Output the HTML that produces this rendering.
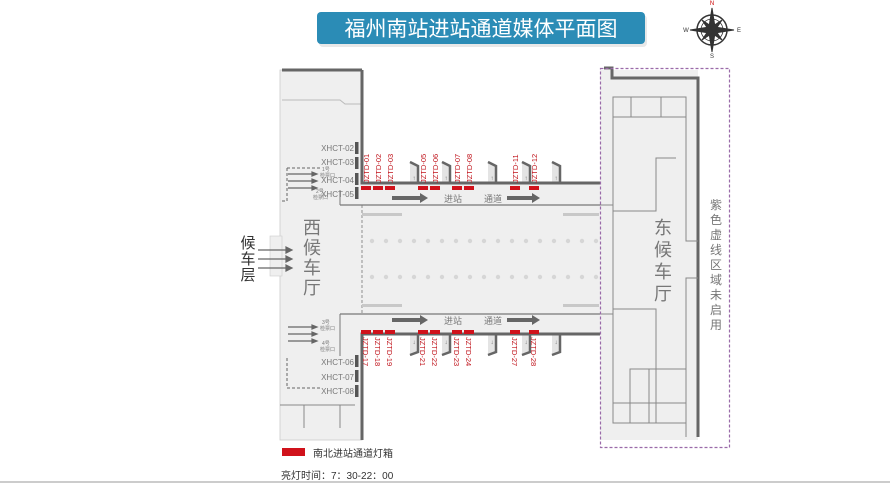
<!DOCTYPE html>
<html><head><meta charset="utf-8"><style>
html,body{margin:0;padding:0;background:#fff;}
svg{display:block;font-family:"Liberation Sans","Noto Sans CJK SC",sans-serif;}
</style></head><body>
<svg width="890" height="485" viewBox="0 0 890 485" xmlns="http://www.w3.org/2000/svg">
<rect x="0" y="0" width="890" height="485" fill="#fff"/>
<line x1="0" y1="482" x2="890" y2="482" stroke="#ccc" stroke-width="2"/>
<!-- title -->
<rect x="319" y="15" width="328" height="32" rx="4" fill="#d8d8d8" opacity="0.6"/>
<rect x="317" y="12" width="328" height="32" rx="4" fill="#2b8cb6"/>
<text x="481" y="36" font-size="21" fill="#fff" text-anchor="middle">福州南站进站通道媒体平面图</text>
<!-- compass -->
<g transform="translate(712,30)" stroke="#333" fill="none">
<circle r="15" stroke-width="1.5"/><circle r="11" stroke-width="0.8"/>
<polygon points="0,-22 3,-3 0,0 -3,-3" fill="#333"/>
<polygon points="0,22 3,3 0,0 -3,3" fill="#333"/>
<polygon points="-22,0 -3,3 0,0 -3,-3" fill="#333"/>
<polygon points="22,0 3,3 0,0 3,-3" fill="#333"/>
<polygon points="-10,-10 2,-2 -2,2" fill="#333"/><polygon points="10,10 2,-2 -2,2" fill="#333"/>
<polygon points="10,-10 2,2 -2,-2" fill="#333"/><polygon points="-10,10 2,2 -2,-2" fill="#333"/>
</g>
<text x="712" y="5" font-size="6" fill="#c00" text-anchor="middle">N</text>
<text x="712" y="58" font-size="6" fill="#333" text-anchor="middle">S</text>
<text x="686" y="32" font-size="6" fill="#333" text-anchor="middle">W</text>
<text x="739" y="32" font-size="6" fill="#333" text-anchor="middle">E</text>

<!-- west hall -->
<rect x="280" y="70" width="82" height="370" fill="#efefef" stroke="#ccc" stroke-width="0.8"/>
<rect x="270" y="236" width="12" height="40" fill="#efefef" stroke="#ccc" stroke-width="0.6"/>
<polyline points="282,100 340,100 345,104 362,104" fill="none" stroke="#bbb"/>
<polyline points="287,168 287,201 282,201" fill="none" stroke="#666" stroke-dasharray="3,2"/>
<line x1="287" y1="168" x2="320" y2="168" stroke="#666" stroke-dasharray="3,2"/>
<polyline points="287,358 287,388 322,388" fill="none" stroke="#666" stroke-dasharray="3,2"/>
<line x1="280" y1="405" x2="355" y2="405" stroke="#888"/>
<line x1="304" y1="405" x2="304" y2="428" stroke="#888"/><line x1="340" y1="405" x2="340" y2="428" stroke="#888"/>
<line x1="282" y1="70" x2="362" y2="70" stroke="#666" stroke-width="3"/>

<!-- corridor -->
<rect x="360" y="183" width="240" height="151" fill="#efefef"/>
<line x1="362" y1="205" x2="600" y2="205" stroke="#777" stroke-width="1.2"/>
<line x1="340" y1="205" x2="362" y2="205" stroke="#777" stroke-width="1.2"/>
<line x1="340" y1="190" x2="340" y2="205" stroke="#777" stroke-width="1"/>
<line x1="340" y1="314" x2="600" y2="314" stroke="#777" stroke-width="1.2"/>
<line x1="340" y1="314" x2="340" y2="356" stroke="#777" stroke-width="1"/>
<line x1="362" y1="205" x2="362" y2="314" stroke="#777" stroke-dasharray="3,2" stroke-width="0.8"/>
<g fill="#c8c8c8">
<rect x="362" y="213" width="40" height="3"/><rect x="563" y="213" width="36" height="3"/>
<rect x="362" y="304" width="40" height="3"/><rect x="563" y="304" width="36" height="3"/>
</g>
<g fill="#d6d6d6">
<circle cx="372" cy="241" r="2.2"/><circle cx="386" cy="241" r="2.2"/><circle cx="400" cy="241" r="2.2"/><circle cx="414" cy="241" r="2.2"/><circle cx="428" cy="241" r="2.2"/><circle cx="442" cy="241" r="2.2"/><circle cx="456" cy="241" r="2.2"/><circle cx="470" cy="241" r="2.2"/><circle cx="484" cy="241" r="2.2"/><circle cx="498" cy="241" r="2.2"/><circle cx="512" cy="241" r="2.2"/><circle cx="526" cy="241" r="2.2"/><circle cx="540" cy="241" r="2.2"/><circle cx="554" cy="241" r="2.2"/><circle cx="568" cy="241" r="2.2"/><circle cx="582" cy="241" r="2.2"/><circle cx="596" cy="241" r="2.2"/>
<circle cx="372" cy="277" r="2.2"/><circle cx="386" cy="277" r="2.2"/><circle cx="400" cy="277" r="2.2"/><circle cx="414" cy="277" r="2.2"/><circle cx="428" cy="277" r="2.2"/><circle cx="442" cy="277" r="2.2"/><circle cx="456" cy="277" r="2.2"/><circle cx="470" cy="277" r="2.2"/><circle cx="484" cy="277" r="2.2"/><circle cx="498" cy="277" r="2.2"/><circle cx="512" cy="277" r="2.2"/><circle cx="526" cy="277" r="2.2"/><circle cx="540" cy="277" r="2.2"/><circle cx="554" cy="277" r="2.2"/><circle cx="568" cy="277" r="2.2"/><circle cx="582" cy="277" r="2.2"/><circle cx="596" cy="277" r="2.2"/>
</g>

<!-- upper wall + kinks -->
<g fill="#e4e4e4">
<polygon points="410,162 418,166 418,183 410,183"/><polygon points="442,162 450,166 450,183 442,183"/>
<polygon points="488,162 496,166 496,183 488,183"/><polygon points="522,162 530,166 530,183 522,183"/>
<polygon points="552,162 560,166 560,183 552,183"/>
<polygon points="410,355 418,352 418,334 410,334"/><polygon points="442,355 450,352 450,334 442,334"/>
<polygon points="488,355 496,352 496,334 488,334"/><polygon points="522,355 530,352 530,334 522,334"/>
<polygon points="552,355 560,352 560,334 552,334"/>
</g>
<polyline points="362,70 362,183 600,183" fill="none" stroke="#666" stroke-width="3"/>
<g stroke="#666" stroke-width="2.5" fill="none">
<polyline points="410,162 418,166 418,183"/>
<polyline points="442,162 450,166 450,183"/>
<polyline points="488,162 496,166 496,183"/>
<polyline points="522,162 530,166 530,183"/>
<polyline points="552,162 560,166 560,183"/>
</g>
<g font-size="6" fill="#666" text-anchor="middle">
<text x="414" y="180">↑</text><text x="446" y="180">↑</text><text x="492" y="180">↑</text><text x="526" y="180">↑</text><text x="556" y="180">↑</text>
</g>
<!-- lower wall -->
<polyline points="362,440 362,334 600,334" fill="none" stroke="#666" stroke-width="3"/>
<g stroke="#666" stroke-width="2.5" fill="none">
<polyline points="418,334 418,352 410,355"/><polyline points="450,334 450,352 442,355"/>
<polyline points="496,334 496,352 488,355"/><polyline points="530,334 530,352 522,355"/>
<polyline points="560,334 560,352 552,355"/>
</g>
<g font-size="6" fill="#666" text-anchor="middle">
<text x="414" y="344">↓</text><text x="446" y="344">↓</text><text x="492" y="344">↓</text><text x="526" y="344">↓</text><text x="556" y="344">↓</text>
</g>

<!-- red boxes -->
<g fill="#d0121b">
<rect x="361" y="186" width="10" height="4"/><rect x="373" y="186" width="10" height="4"/><rect x="385" y="186" width="10" height="4"/>
<rect x="418" y="186" width="10" height="4"/><rect x="430" y="186" width="10" height="4"/>
<rect x="452" y="186" width="10" height="4"/><rect x="464" y="186" width="10" height="4"/>
<rect x="510" y="186" width="10" height="4"/><rect x="529" y="186" width="10" height="4"/>
<rect x="361" y="330" width="10" height="4"/><rect x="373" y="330" width="10" height="4"/><rect x="385" y="330" width="10" height="4"/>
<rect x="418" y="330" width="10" height="4"/><rect x="430" y="330" width="10" height="4"/>
<rect x="452" y="330" width="10" height="4"/><rect x="464" y="330" width="10" height="4"/>
<rect x="510" y="330" width="10" height="4"/><rect x="529" y="330" width="10" height="4"/>
</g>
<g font-size="7.5" fill="#c0141c">
<text transform="translate(369,183) rotate(-90)">JZTD-01</text>
<text transform="translate(381,183) rotate(-90)">JZTD-02</text>
<text transform="translate(393,183) rotate(-90)">JZTD-03</text>
<text transform="translate(426,183) rotate(-90)">JZTD-05</text>
<text transform="translate(438,183) rotate(-90)">JZTD-06</text>
<text transform="translate(460,183) rotate(-90)">JZTD-07</text>
<text transform="translate(472,183) rotate(-90)">JZTD-08</text>
<text transform="translate(518,183) rotate(-90)">JZTD-11</text>
<text transform="translate(537,183) rotate(-90)">JZTD-12</text>
<text transform="translate(363,337) rotate(90)">JZTD-17</text>
<text transform="translate(375,337) rotate(90)">JZTD-18</text>
<text transform="translate(387,337) rotate(90)">JZTD-19</text>
<text transform="translate(420,337) rotate(90)">JZTD-21</text>
<text transform="translate(432,337) rotate(90)">JZTD-22</text>
<text transform="translate(454,337) rotate(90)">JZTD-23</text>
<text transform="translate(466,337) rotate(90)">JZTD-24</text>
<text transform="translate(512,337) rotate(90)">JZTD-27</text>
<text transform="translate(531,337) rotate(90)">JZTD-28</text>
</g>
<!-- corridor arrows -->
<g fill="#666">
<polygon points="392,196 420,196 420,193 428,198 420,203 420,200 392,200"/>
<polygon points="507,196 532,196 532,193 540,198 532,203 532,200 507,200"/>
<polygon points="392,318 420,318 420,315 428,320 420,325 420,322 392,322"/>
<polygon points="507,318 532,318 532,315 540,320 532,325 532,322 507,322"/>
</g>
<g font-size="9" fill="#777">
<text x="444" y="202">进站</text><text x="484" y="202">通道</text>
<text x="444" y="324">进站</text><text x="484" y="324">通道</text>
</g>

<!-- XHCT labels -->
<g fill="#555"><rect x="355" y="142" width="3.5" height="12"/><rect x="355" y="157" width="3.5" height="12"/><rect x="355" y="173" width="3.5" height="12"/><rect x="355" y="187" width="3.5" height="12"/>
<rect x="355" y="355" width="3.5" height="12"/><rect x="355" y="370" width="3.5" height="12"/><rect x="355" y="385" width="3.5" height="12"/></g>
<g font-size="8" fill="#777" text-anchor="end">
<text x="354" y="151">XHCT-02</text><text x="354" y="165">XHCT-03</text><text x="354" y="183">XHCT-04</text><text x="354" y="197">XHCT-05</text>
<text x="354" y="365">XHCT-06</text><text x="354" y="380">XHCT-07</text><text x="354" y="394">XHCT-08</text>
</g>
<g font-size="5" fill="#777">
<text x="322" y="171">1号</text><text x="320" y="177">检票口</text>
<text x="316" y="193">2号</text><text x="313" y="199">检票口</text>
<text x="322" y="324">3号</text><text x="320" y="330">检票口</text>
<text x="322" y="345">4号</text><text x="320" y="351">检票口</text>
</g>
<g stroke="#666" stroke-width="1.2" fill="#666">
<line x1="288" y1="174" x2="312" y2="174"/><polygon points="312,172 317,174 312,176"/>
<line x1="288" y1="181" x2="312" y2="181"/><polygon points="312,179 317,181 312,183"/>
<line x1="288" y1="188" x2="312" y2="188"/><polygon points="312,186 317,188 312,190"/>
<line x1="288" y1="327" x2="312" y2="327"/><polygon points="312,325 317,327 312,329"/>
<line x1="288" y1="334" x2="312" y2="334"/><polygon points="312,332 317,334 312,336"/>
<line x1="288" y1="341" x2="312" y2="341"/><polygon points="312,339 317,341 312,343"/>
<line x1="258" y1="250" x2="286" y2="250"/><polygon points="286,247 292,250 286,253"/>
<line x1="258" y1="259" x2="286" y2="259"/><polygon points="286,256 292,259 286,262"/>
<line x1="258" y1="268" x2="286" y2="268"/><polygon points="286,265 292,268 286,271"/>
</g>
<g font-size="15" fill="#333" text-anchor="middle">
<text x="248" y="248">候</text><text x="248" y="264">车</text><text x="248" y="280">层</text>
</g>
<g font-size="18" fill="#777" text-anchor="middle">
<text x="312" y="234">西</text><text x="312" y="254">候</text><text x="312" y="274">车</text><text x="312" y="294">厅</text>
</g>

<!-- east hall -->
<rect x="600" y="70" width="98" height="370" fill="#efefef"/>
<polyline points="604,68 612,68 612,78 698,78 698,437" fill="none" stroke="#666" stroke-width="3"/>
<g fill="none" stroke="#888" stroke-width="1">
<rect x="613" y="97" width="73" height="20"/><line x1="631" y1="97" x2="631" y2="117"/><line x1="661" y1="97" x2="661" y2="117"/>
<line x1="613" y1="117" x2="613" y2="423"/>
<polyline points="613,211 656,211 656,158 676,158"/>
<polyline points="686,117 686,241 698,241"/>
<polyline points="686,437 686,278 698,278"/>
<polyline points="613,309 656,309 656,423"/>
<rect x="630" y="369" width="56" height="54"/><line x1="649" y1="369" x2="649" y2="423"/>
<rect x="613" y="403" width="73" height="20"/>
<line x1="600" y1="205" x2="613" y2="205"/><line x1="600" y1="314" x2="613" y2="314"/>
</g>
<g font-size="18" fill="#777" text-anchor="middle">
<text x="663" y="234">东</text><text x="663" y="256">候</text><text x="663" y="278">车</text><text x="663" y="300">厅</text>
</g>
<g font-size="12" fill="#777" text-anchor="middle">
<text x="716" y="209">紫</text><text x="716" y="224">色</text><text x="716" y="239">虚</text><text x="716" y="254">线</text><text x="716" y="269">区</text><text x="716" y="284">域</text><text x="716" y="299">未</text><text x="716" y="314">启</text><text x="716" y="329">用</text>
</g>
<rect x="600.5" y="68.5" width="129" height="379" fill="none" stroke="#9a6aa8" stroke-width="1.2" stroke-dasharray="3,2"/>

<!-- legend -->
<rect x="282" y="448" width="23" height="8" fill="#d0121b"/>
<text x="313" y="457" font-size="10" fill="#333">南北进站通道灯箱</text>
<text x="281" y="479" font-size="10" fill="#333">亮灯时间：7：30-22：00</text>
</svg>
</body></html>
